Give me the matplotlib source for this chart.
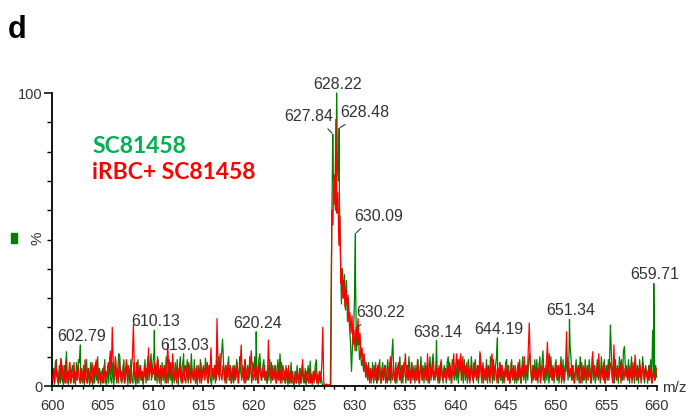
import numpy as np
import matplotlib
matplotlib.use("Agg")
import matplotlib.pyplot as plt
from matplotlib.patches import Rectangle
from matplotlib.ticker import MultipleLocator, FixedLocator

# profile scans, one row per m/z unit (10 points, 0.1 apart)
sc_start = 600.0
sc_intensity = [
    [1, 6, 0.5, 8, 9, 2, 0.5, 7, 1, 9],
    [2, 0.5, 7, 1, 11.7, 3, 0.5, 8, 1, 5],
    [7, 1, 5, 0.5, 8, 2, 9, 8, 1, 6],
    [1, 7, 0.5, 4, 9, 1, 6, 0.5, 8, 2],
    [0.5, 6, 1, 8, 2, 10, 1, 6, 0.5, 4],
    [6, 1, 9, 2, 0.5, 7, 1, 10, 2, 1],
    [8, 0.5, 4, 9, 1, 6, 11, 10, 2, 1],
    [5, 9, 1, 4, 8, 0.5, 6, 1, 9, 2],
    [1, 8, 2, 0.5, 6, 9, 1, 7, 2, 5],
    [0.5, 4, 9, 1, 6, 10, 2, 7, 11, 3],
    [8, 12, 2, 7, 1, 9, 2, 6, 0.5, 8],
    [2, 7, 1, 10, 5, 1, 9, 2, 7, 0.5],
    [6, 1, 8, 2, 9, 0.5, 5, 10, 1, 7],
    [9, 2, 7, 5, 9, 1, 7, 2, 11, 4],
    [2, 9, 1, 5, 0.5, 7, 2, 9, 1, 5],
    [7, 2, 9.5, 4, 8, 1, 7, 2, 0.5, 6],
    [2, 7, 1, 9, 4, 10, 2, 7, 11, 16],
    [8, 2, 7, 1, 5, 10, 2, 7, 1, 5],
    [1, 7, 2, 9, 5, 1, 10, 5, 2, 7],
    [2, 9, 1, 5, 7, 2, 10, 5, 1, 8],
    [5, 10, 2, 7, 1, 9, 11, 5, 2, 7],
    [9, 2, 5, 1, 7, 2, 9, 1, 5, 7],
    [2, 7, 1, 5, 9, 2, 11, 5, 1, 7],
    [5, 1, 7, 2, 0.5, 5, 1, 8, 2, 1],
    [0.5, 5, 1, 7, 2, 0.5, 6, 1, 7, 2],
    [1, 6, 0.5, 4, 7, 1, 8.5, 2, 0.5, 5],
    [1, 7, 9, 2, 0.5, 5, 1, 3, 0.5, 0.3],
    [0.5, 0.3, 0.5, 0.2, 0.4, 0.3, 0.5, 40, 72, 70],
    [72, 60, 82, 75, 70, 64, 45, 28, 40, 30],
    [38, 26, 36, 22, 30, 20, 15, 5, 14, 18],
    [30, 36, 12, 14, 17, 9, 12, 7, 9, 5],
    [9, 3, 7, 2, 8, 1, 6, 2, 8, 1],
    [5, 8, 1, 7, 2, 9, 1, 5, 8, 2],
    [7, 1, 5, 9, 2, 8, 1, 10, 16, 4],
    [2, 8, 1, 7, 5, 10, 2, 7, 1, 8],
    [5, 1, 7, 2, 10, 5, 1, 8, 2, 7],
    [1, 7, 2, 9, 1, 5, 10, 2, 7, 1],
    [8, 2, 7, 1, 5, 10, 2, 7, 11, 5],
    [2, 9, 5, 1, 7, 2, 9, 5, 1, 7],
    [5, 1, 8, 10, 2, 7, 1, 9, 5, 2],
    [7, 2, 9, 1, 5, 10, 2, 7, 1, 9],
    [2, 7, 1, 9, 5, 2, 10, 5, 1, 7],
    [9, 2, 7, 1, 5, 11, 2, 7, 1, 5],
    [2, 9, 1, 7, 2, 10, 5, 1, 9, 2],
    [7, 10, 5, 1, 8, 2, 7, 1, 5, 2],
    [8, 9, 2, 7, 1, 5, 9, 2, 7, 1],
    [5, 1, 7, 2, 9, 1, 5, 10, 2, 7],
    [1, 7, 2, 9, 11, 5, 1, 7, 2, 9],
    [2, 9, 1, 5, 10, 2, 7, 12, 5, 1],
    [7, 2, 9, 1, 5, 10, 2, 7, 1, 5],
    [9, 2, 7, 1, 5, 10, 2, 9, 1, 7],
    [5, 10, 2, 12, 14, 9, 2, 7, 1, 5],
    [9, 2, 7, 1, 10, 5, 1, 7, 2, 9],
    [1, 7, 2, 9, 5, 1, 10, 2, 7, 1],
    [5, 9, 2, 7, 1, 10, 5, 2, 9, 1],
    [7, 2, 9, 5, 20.8, 11, 2, 7, 1, 9],
    [2, 7, 1, 10, 5, 9, 2, 12, 13.4, 5],
    [7, 2, 9, 1, 5, 10, 2, 7, 1, 9],
    [2, 7, 1, 9, 5, 2, 10, 5, 1, 7],
    [5, 1, 7, 2, 9, 1, 19, 5, 2, 7],
    [3],
]

# labelled centroids of the SC81458 scan
sc_peak_mz = [602.79, 610.13, 613.03, 620.24, 627.84, 628.22, 628.48,
              630.09, 630.22, 638.14, 644.19, 651.34, 659.71]
sc_peak_int = [14, 19, 11, 18.5, 86, 100, 88, 52, 20, 15.5, 16.4, 22.8, 35]

irbc_start = 600.05
irbc_intensity = [
    [2, 6, 1, 8, 3, 5, 1, 4, 9.5, 2],
    [7, 1, 4, 9, 1, 5, 2, 8, 1, 4],
    [3, 8, 1, 5, 2, 7, 3, 1, 6, 2],
    [5, 1, 9, 3, 1, 6, 4, 1, 5, 8],
    [1, 7, 3, 9, 4, 1, 6, 2, 5, 1],
    [4, 7, 1, 5, 3, 8, 6, 12, 4, 20],
    [8, 3, 10, 2, 6, 1, 9, 3, 5, 2],
    [7, 1, 5, 9, 2, 7, 4, 1, 6, 10],
    [21, 5, 2, 8, 1, 6, 3, 7, 2, 5],
    [1, 7, 3, 6, 2, 13, 4, 8, 2, 6],
    [4, 8, 2, 6, 10, 4, 1, 7, 3, 6],
    [2, 7, 4, 1, 14.6, 6, 3, 8, 2, 11],
    [5, 2, 7, 1, 6, 3, 8, 2, 5, 1],
    [7, 3, 1, 6, 2, 8, 4, 1, 6, 3],
    [2, 6, 1, 7, 3, 5, 1, 8, 2, 5],
    [6, 2, 8, 3, 1, 7, 4, 13, 3, 6],
    [3, 7, 2, 23, 6, 3, 11, 4, 2, 7],
    [5, 1, 7, 3, 8, 2, 6, 1, 5, 7],
    [2, 6, 3, 8, 1, 5, 7, 14, 3, 6],
    [1, 9, 4, 2, 6, 3, 7, 12, 4, 2],
    [6, 2, 7, 3, 1, 8, 4, 2, 6, 3],
    [7, 2, 5, 1, 15.7, 6, 3, 8, 2, 5],
    [3, 7, 1, 5, 2, 6, 1, 8, 3, 2],
    [5, 1, 6, 2, 7, 1, 4, 1, 5, 2],
    [1, 5, 1, 4, 2, 6, 1, 4, 9, 2],
    [4, 1, 5, 2, 1, 6, 1, 4, 1, 5],
    [2, 6, 1, 4, 1, 5, 2, 7, 20, 1],
    [0.5, 0.3, 0.6, 0.4, 0.2, 0.5, 0.8, 60, 55, 72],
    [62, 91, 59, 66, 48, 58, 35, 40, 30, 36],
    [27, 33, 28, 31, 22, 25, 18, 24, 14, 19],
    [12, 20, 16, 23, 14, 18, 10, 13, 8, 11],
    [5, 8, 3, 7, 2, 6, 1, 5, 3, 7],
    [2, 6, 1, 5, 8, 3, 1, 6, 2, 5],
    [7, 3, 1, 6, 2, 10, 4, 2, 7, 3],
    [1, 6, 3, 8, 2, 5, 1, 7, 3, 6],
    [11, 3, 7, 2, 6, 1, 8, 3, 5, 2],
    [6, 2, 9, 3, 1, 7, 4, 2, 6, 3],
    [7, 2, 11, 4, 1, 6, 3, 8, 2, 5],
    [3, 7, 2, 6, 1, 8, 4, 2, 6, 3],
    [6, 2, 7, 3, 8, 4, 1, 6, 11, 4],
    [7, 11, 3, 9, 5, 11, 2, 10, 4, 7],
    [3, 8, 2, 6, 1, 7, 4, 2, 8, 3],
    [6, 2, 7, 3, 11.7, 5, 1, 8, 3, 6],
    [2, 7, 3, 6, 1, 8, 11, 4, 2, 7],
    [5, 1, 6, 3, 8, 2, 7, 4, 1, 6],
    [3, 7, 2, 5, 1, 8, 3, 6, 2, 7],
    [4, 2, 8, 3, 6, 1, 7, 3, 10, 4],
    [7, 3, 12, 21.5, 8, 4, 2, 7, 3, 6],
    [2, 6, 3, 8, 1, 5, 7, 2, 6, 3],
    [8, 15, 5, 11, 3, 7, 2, 6, 3, 8],
    [5, 2, 7, 3, 8, 1, 6, 3, 2, 7],
    [18.5, 4, 8, 3, 6, 2, 7, 3, 1, 5],
    [6, 2, 7, 3, 1, 8, 4, 2, 6, 3],
    [2, 7, 3, 6, 1, 5, 11.7, 3, 7, 2],
    [6, 3, 11, 4, 2, 7, 3, 8, 1, 5],
    [3, 7, 2, 6, 8, 4, 1, 14, 3, 6],
    [2, 6, 3, 8, 1, 5, 7, 2, 6, 3],
    [5, 2, 7, 3, 6, 1, 8, 3, 10.6, 4],
    [2, 6, 3, 7, 1, 5, 8, 2, 6, 3],
    [5, 2, 7, 3, 6, 1, 5, 3, 2, 6],
]

SCAN_STEP = 0.1
GREEN = "#008000"
RED = "#ff0000"
TEXT = "#333333"

# label placement (pixels from the peak top) and leader anchor on the text
label_offsets = {
    627.84: (-24, 13, 0.8),
    628.48: (26, 11, 0.23),
    630.09: (23, 13, 0.24),
    630.22: (24, 10, 0.23),
}


def profile(start, rows):
    y = np.array([v for row in rows for v in row], dtype=float)
    x = start + SCAN_STEP * np.arange(len(y))
    return x, y


def main():
    fig = plt.figure(figsize=(6.92, 4.16), dpi=100)
    ax = fig.add_axes([0.0756, 0.0721, 0.8734, 0.7043])

    sc_x, sc_y = profile(sc_start, sc_intensity)
    # put the centroided apexes back into the SC81458 trace
    sc_x = np.concatenate([sc_x, sc_peak_mz])
    sc_y = np.concatenate([sc_y, sc_peak_int])
    order = np.argsort(sc_x)
    sc_x, sc_y = sc_x[order], sc_y[order]

    ir_x, ir_y = profile(irbc_start, irbc_intensity)

    ax.plot(sc_x, sc_y, color=GREEN, lw=0.9, clip_on=False, zorder=2)
    ax.plot(ir_x, ir_y, color=RED, lw=0.9, clip_on=False, zorder=3)

    for mz, inten in zip(sc_peak_mz, sc_peak_int):
        dx, dy, rel = label_offsets.get(mz, (1, 4, None))
        kw = {}
        if rel is not None:
            kw["arrowprops"] = dict(arrowstyle="-", color=TEXT, lw=0.8,
                                    relpos=(rel, 0), shrinkA=2, shrinkB=1)
        ax.annotate(f"{mz:.2f}", xy=(mz, inten), xytext=(dx, dy),
                    textcoords="offset pixels", ha="center", va="baseline",
                    family="Liberation Sans", fontsize=11.5, color=TEXT,
                    annotation_clip=False, zorder=5, **kw)

    ax.set_xlim(600, 660)
    ax.set_ylim(0, 100)
    for side in ("top", "right"):
        ax.spines[side].set_visible(False)
    for side in ("left", "bottom"):
        ax.spines[side].set_linewidth(1.3)

    ax.xaxis.set_major_locator(MultipleLocator(5))
    ax.xaxis.set_minor_locator(MultipleLocator(1))
    ax.yaxis.set_major_locator(FixedLocator([0, 100]))
    ax.yaxis.set_minor_locator(MultipleLocator(10))
    ax.tick_params(axis="x", which="major", direction="out", length=3.5,
                   width=1.1, pad=6, labelsize=10.5, labelcolor=TEXT)
    ax.tick_params(axis="x", which="minor", direction="out", length=2.5,
                   width=1.0)
    ax.tick_params(axis="y", which="major", direction="out", length=5.5,
                   width=1.1, pad=1.5, labelsize=10.5, labelcolor=TEXT)
    ax.tick_params(axis="y", which="minor", direction="out", length=3.8,
                   width=1.0)
    for lab in ax.get_xticklabels() + ax.get_yticklabels():
        lab.set_family("Liberation Sans")

    fig.text(662 / 692, 1 - 392 / 416, "m/z", family="Liberation Sans",
             fontsize=11, color=TEXT, ha="left", va="baseline")
    fig.text(38 / 692, 1 - 238 / 416, "%", family="Liberation Sans",
             fontsize=11, color=TEXT, rotation=90, ha="center", va="center")
    fig.patches.append(Rectangle((11 / 692, 1 - 243 / 416), 6 / 692, 10 / 416,
                                 transform=fig.transFigure, color=GREEN))

    fig.text(8 / 692, 1 - 38 / 416, "d", family="Liberation Sans",
             fontsize=22, fontweight="bold", color="black", va="baseline")
    fig.text(92 / 692, 1 - 153 / 416, "SC81458", family="Lato",
             fontsize=16.5, fontweight="bold", color="#00b050", va="baseline")
    fig.text(92 / 692, 1 - 179 / 416, "iRBC+ SC81458", family="Lato",
             fontsize=16.5, fontweight="bold", color=RED, va="baseline")

    fig.savefig("out.png", dpi=100)


if __name__ == "__main__":
    main()
